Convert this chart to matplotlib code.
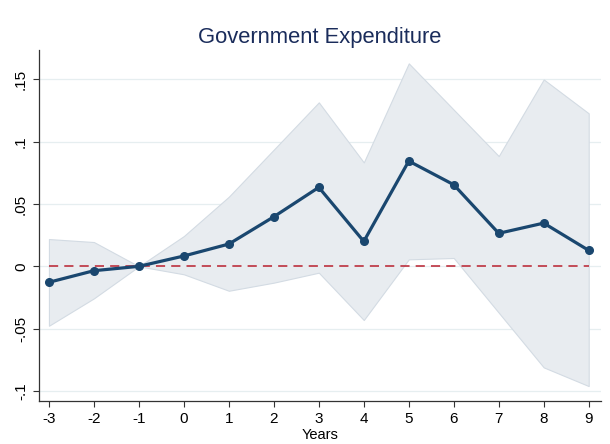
import matplotlib
matplotlib.use("Agg")
import matplotlib.pyplot as plt

# event-study coefficients with 95% CI
years = [-3, -2, -1, 0, 1, 2, 3, 4, 5, 6, 7, 8, 9]
coef = [-0.0128, -0.0035, 0.0, 0.0083, 0.0179, 0.0398, 0.0634, 0.0200,
        0.0845, 0.0655, 0.0265, 0.0347, 0.0128]
ci_hi = [0.0219, 0.0195, 0.0, 0.0243, 0.0559, 0.0937, 0.1316, 0.0834,
         0.1629, 0.1257, 0.0885, 0.1500, 0.1228]
ci_lo = [-0.0477, -0.0257, 0.0, -0.0064, -0.0196, -0.0131, -0.0051, -0.0431,
         0.0056, 0.0067, -0.0372, -0.0811, -0.0961]
yticks = [-0.1, -0.05, 0, 0.05, 0.1, 0.15]
ytick_labels = ["-.1", "-.05", "0", ".05", ".1", ".15"]

plt.rcParams["font.family"] = ["Liberation Sans", "DejaVu Sans"]

fig = plt.figure(figsize=(6.1, 4.44), dpi=100)
ax = fig.add_axes([0.064, 0.0968, 0.921, 0.7905])

navy = "#1a476f"
ax.fill_between(years, ci_lo, ci_hi, facecolor="#e8ecf0", edgecolor="#d3dbe3",
                lw=0.8, zorder=1)
# reference line at zero, spanning the event window only
ax.plot([years[0], years[-1]], [0, 0], color="#b8202e", lw=1.1,
        ls=(0, (6, 4)), zorder=2)
ax.plot(years, coef, color=navy, lw=2.3, marker="o", ms=5.5, zorder=3)

ax.set_xlim(-3.22, 9.27)
ax.set_ylim(-0.1081, 0.1736)
ax.set_xticks(years)
ax.set_xticklabels([str(y) for y in years])
ax.set_yticks(yticks)
ax.set_yticklabels(ytick_labels, rotation=90, va="center")
ax.grid(axis="y", color="#e6eef0", lw=0.9)
ax.set_axisbelow(True)

for side in ("top", "right"):
    ax.spines[side].set_visible(False)
for side in ("left", "bottom"):
    ax.spines[side].set_color("#333333")
    ax.spines[side].set_linewidth(0.9)
ax.tick_params(direction="out", length=4.5, width=0.8, colors="#333333",
               labelsize=11, labelcolor="black")

ax.set_xlabel("Years", fontsize=10.5, labelpad=1)
ax.set_title("Government Expenditure", fontsize=15.8, color="#1a2c5b", pad=5)

fig.savefig("out.png", dpi=100)
